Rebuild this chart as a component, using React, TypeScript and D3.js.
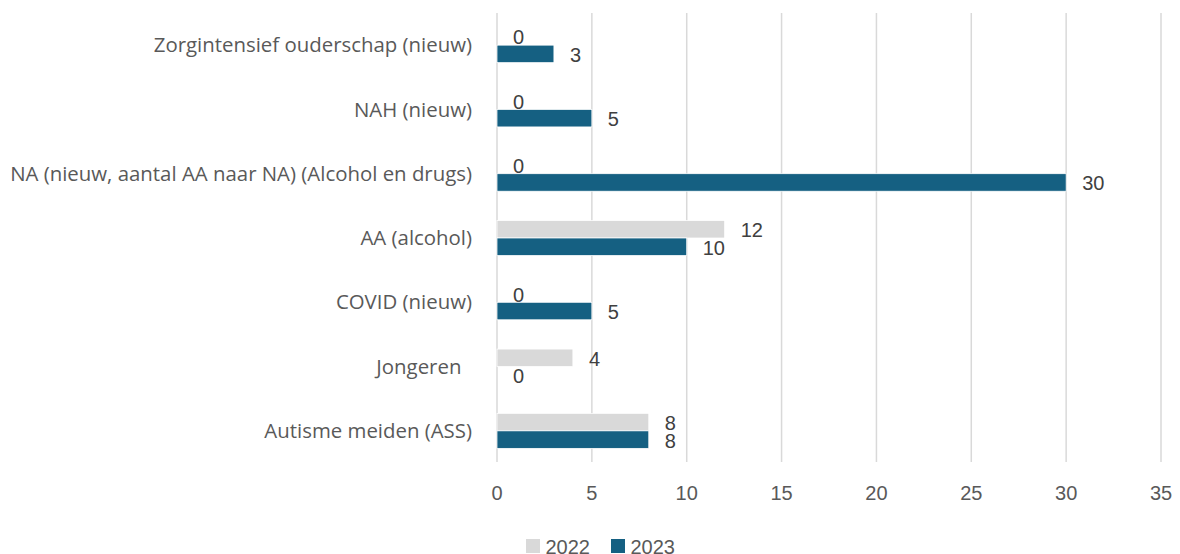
import React from "react";
import * as d3 from "d3";

const categories = [
  "Zorgintensief ouderschap (nieuw)",
  "NAH (nieuw)",
  "NA (nieuw, aantal AA naar NA) (Alcohol en drugs)",
  "AA (alcohol)",
  "COVID (nieuw)",
  "Jongeren\u00A0\u00A0",
  "Autisme meiden (ASS)",
];
const series = ["2022", "2023"];
const values2022 = [0, 0, 0, 12, 0, 4, 8];
const values2023 = [3, 5, 30, 10, 5, 0, 8];
const ticks = [0, 5, 10, 15, 20, 25, 30, 35];
const colors = ["#d9d9d9", "#156082"];

const W = 1180;
const H = 554;

export default function App() {
  const x = d3.scaleLinear().domain([0, 35]).range([497, 1161]);
  const y = d3.scaleBand().domain(categories).range([13, 463]).paddingInner(0).paddingOuter(0);
  const barH = 17.5;
  const sub = d3
    .scaleBand()
    .domain(series)
    .range([y.bandwidth() / 2 - barH, y.bandwidth() / 2 + barH]);
  const data = [values2022, values2023];
  const numFont = "'Liberation Sans', Arial, sans-serif";
  const catFont = "'Open Sans', sans-serif";

  return (
    <svg width={W} height={H} style={{ position: "absolute", left: 0, top: 0 }}>
      <rect width={W} height={H} fill="#ffffff" />
      {ticks.map((t) => (
        <line key={"g" + t} x1={x(t)} x2={x(t)} y1={13} y2={462} stroke="#d9d9d9" strokeWidth={1.5} />
      ))}
      {categories.map((c, i) =>
        series.map((s, j) => {
          const v = data[j][i];
          const y0 = (y(c) as number) + (sub(s) as number);
          return (
            <g key={c + s}>
              {v > 0 && (
                <rect
                  x={x(0)}
                  y={y0}
                  width={x(v) - x(0)}
                  height={sub.bandwidth()}
                  fill={colors[j]}
                  stroke="#ffffff"
                  strokeWidth={0.75}
                />
              )}
              <text
                x={x(v) + 16}
                y={y0 + sub.bandwidth() / 2 + 1}
                dy="0.35em"
                fontFamily={numFont}
                fontSize={20}
                fill="#404040"
              >
                {v}
              </text>
            </g>
          );
        })
      )}
      {categories.map((c) => (
        <text
          key={"c" + c}
          x={472}
          y={(y(c) as number) + y.bandwidth() / 2}
          dy="0.35em"
          textAnchor="end"
          fontFamily={catFont}
          fontSize={20.4}
          fill="#595959"
          style={{ whiteSpace: "pre" }}
        >
          {c}
        </text>
      ))}
      {ticks.map((t) => (
        <text
          key={"t" + t}
          x={x(t)}
          y={493}
          dy="0.35em"
          textAnchor="middle"
          fontFamily={numFont}
          fontSize={20}
          fill="#595959"
        >
          {t}
        </text>
      ))}
      {series.map((s, j) => (
        <g key={"l" + s} transform={`translate(${526 + j * 85},539)`}>
          <rect x={0} y={0} width={14} height={14} fill={colors[j]} />
          <text x={19.5} y={8} dy="0.35em" fontFamily={numFont} fontSize={20} fill="#595959">
            {s}
          </text>
        </g>
      ))}
    </svg>
  );
}
